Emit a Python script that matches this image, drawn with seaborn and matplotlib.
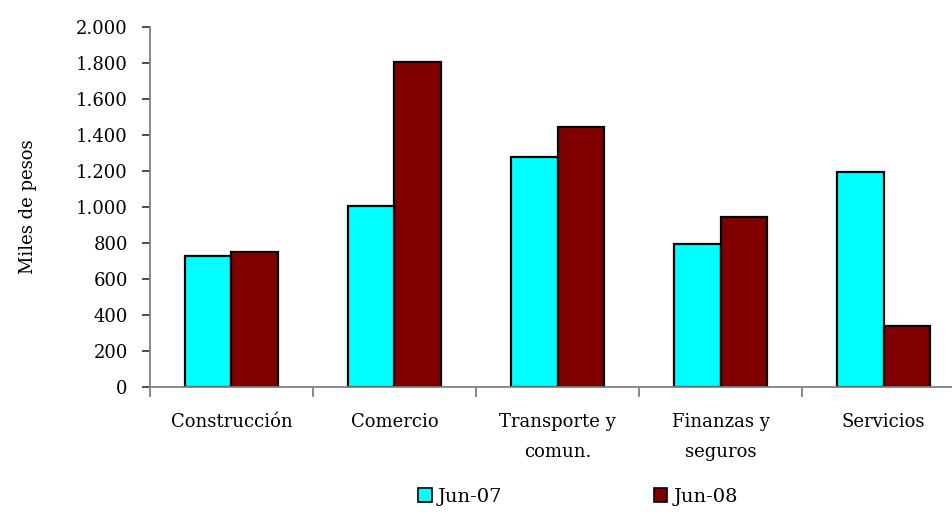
import pandas as pd
import matplotlib.pyplot as plt
import matplotlib.ticker as mticker
import seaborn as sns

# === Data ===
sectores = ["Construcción", "Comercio", "Transporte y\ncomun.", "Finanzas y\nseguros", "Servicios"]
jun07 = [728, 1007, 1280, 793, 1194]
jun08 = [750, 1803, 1443, 944, 337]
series = ["Jun-07", "Jun-08"]
y_ticks = [0, 200, 400, 600, 800, 1000, 1200, 1400, 1600, 1800, 2000]

df = pd.DataFrame({
    "sector": sectores * 2,
    "periodo": [series[0]] * len(sectores) + [series[1]] * len(sectores),
    "valor": jun07 + jun08,
})

color_map = {"Jun-07": "#00FFFF", "Jun-08": "#800000"}

sns.set_style("ticks")
plt.rcParams["font.family"] = ["DejaVu Serif"]
plt.rcParams["text.color"] = "black"
plt.rcParams["xtick.color"] = "black"
plt.rcParams["ytick.color"] = "black"
plt.rcParams["axes.labelcolor"] = "black"

fig = plt.figure(figsize=(9.53, 5.12), dpi=100)
ax = fig.add_axes([150 / 953, 1 - 387 / 512, 815 / 953, 360 / 512])

sns.barplot(
    data=df, x="sector", y="valor", hue="periodo",
    order=sectores, hue_order=series, palette=color_map,
    width=0.565, edgecolor="black", linewidth=1.6, saturation=1,
    ax=ax, legend=False,
)

ax.set_xlim(-0.5, len(sectores) - 0.5)
ax.set_ylim(0, 2000)
ax.set_yticks(y_ticks)
ax.yaxis.set_major_formatter(mticker.FuncFormatter(lambda v, p: f"{int(v):,}".replace(",", ".")))

# category boundary ticks
ax.set_xticks([i - 0.5 for i in range(len(sectores) + 1)], minor=True)
ax.tick_params(axis="x", which="major", bottom=True, length=0, pad=19, labelsize=13)
ax.tick_params(axis="x", which="minor", bottom=True, length=7, width=1.3, color="#808080", direction="out")
ax.tick_params(axis="y", left=True, length=6, width=1.2, color="#303030", direction="out", labelsize=13, pad=10)
for lbl in ax.get_xticklabels():
    lbl.set_linespacing(1.8)
    lbl.set_va("top")

sns.despine(ax=ax, top=True, right=True)
for side in ["left", "bottom"]:
    ax.spines[side].set_color("#808080")
    ax.spines[side].set_linewidth(1.3)

ax.set_xlabel("")
ax.set_ylabel("Miles de pesos", fontsize=13, labelpad=28)

# legend at bottom
handles = [plt.Rectangle((0, 0), 1, 1, facecolor=color_map[s], edgecolor="black", linewidth=1.2) for s in series]
fig.legend(handles, series, loc="center", bbox_to_anchor=(578 / 953, 1 - 497 / 512),
           ncol=2, frameon=False, fontsize=14, handlelength=0.7, handleheight=0.7,
           handletextpad=0.3, columnspacing=7.8, borderaxespad=0)

fig.savefig("out.png", dpi=100)
plt.close(fig)
